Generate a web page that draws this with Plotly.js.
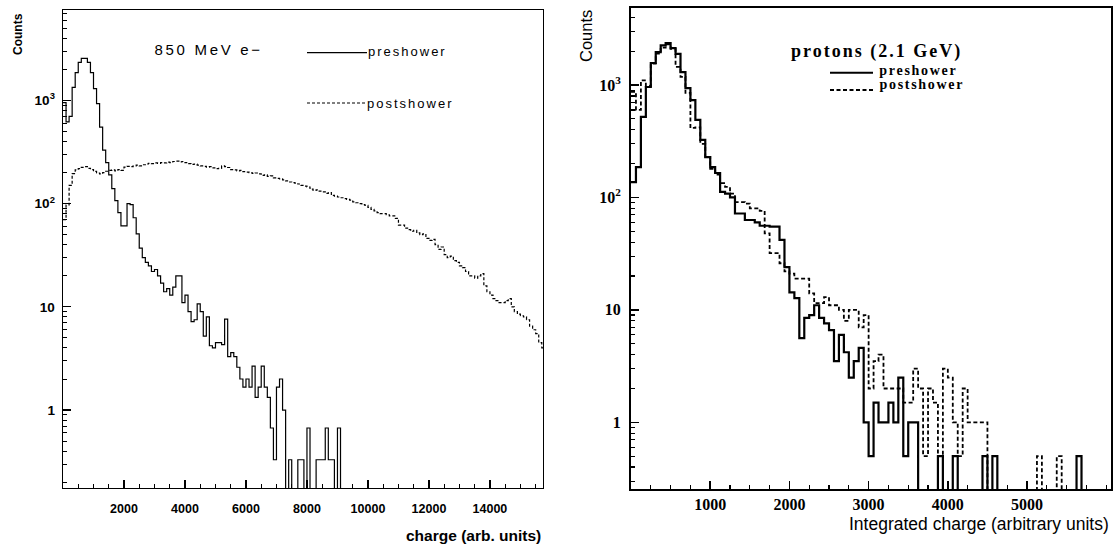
<!DOCTYPE html>
<html>
<head>
<meta charset="utf-8">
<script src="https://cdn.plot.ly/plotly-3.0.1.min.js"></script>
<style>
  html, body { margin: 0; padding: 0; background: #fff; }
  #chart { width: 1120px; height: 547px; }
  .annotation[data-index="2"] text { letter-spacing: 2.7px; }
  .annotation[data-index="3"] text { letter-spacing: 2px; }
  .annotation[data-index="4"] text { letter-spacing: 2px; }
  .annotation[data-index="7"] text { letter-spacing: 2px; }
  .annotation[data-index="8"] text { letter-spacing: 1.7px; }
  .annotation[data-index="9"] text { letter-spacing: 1.7px; }
</style>
</head>
<body>
<div id="chart"></div>
<script>
// ---------- Left panel: 850 MeV electrons (bin width 100) ----------
const eBinWidth = 100;
const ePreshower = [
  950, 620, 700, 1340, 1860, 2340, 2560, 2560, 2340, 1860,
  1300, 930, 550, 330, 250, 190, 140, 107, 82, 61,
  61, 100, 98, 73, 51, 37, 30, 27, 25, 22,
  23, 20, 17, 14, 15, 13, 15.5, 20, 20, 11,
  13, 9, 7.2, 7.5, 10.7, 9, 5.2, 8, 4.2, 4,
  4.5, 4.5, 4.3, 7.6, 3.3, 3.6, 3.3, 2.6, 2.0, 1.67,
  2.0, 1.67, 2.67, 1.33, 1.67, 2.67, 1.67, 1.33, 0.67, 0.33,
  1.67, 2.0, 1.0, 0, 0.33, 0, 0, 0.33, 0.33, 0,
  0.67, 0, 0, 0.33, 0.33, 0.33, 0.67, 0.33, 0.33, 0, 0.67
];
const ePostshower = [
  70, 97, 150, 195, 212, 218, 225, 228, 220, 214,
  205, 198, 194, 200, 206, 210, 212, 208, 214, 210,
  226, 230, 228, 232, 236, 232, 238, 242, 246, 244,
  248, 246, 250, 248, 252, 250, 256, 258, 254, 256,
  250, 244, 240, 242, 236, 232, 230, 226, 228, 222,
  218, 220, 232, 228, 224, 214, 212, 208, 210, 204,
  202, 200, 196, 198, 194, 188, 190, 184, 186, 178,
  176, 174, 170, 166, 162, 160, 158, 155, 150, 148,
  145, 138, 134, 136, 132, 130, 126, 128, 120, 118,
  116, 114, 112, 110, 108, 104, 102, 100, 98, 96,
  92, 88, 85, 82, 80, 80, 78, 76, 76, 72,
  62, 62, 58, 56, 54, 55, 52, 50, 51, 46,
  44, 45, 40, 36, 38, 32, 30, 31, 28, 27,
  25, 24, 22, 20, 20, 19, 20, 21, 16, 14,
  13, 12, 11.5, 11, 11, 11.5, 12, 10, 9, 8.5,
  8.2, 8, 7.5, 6.5, 6, 5.5, 4.5, 4
];

// ---------- Right panel: 2.1 GeV protons (bin width 62.5) ----------
const pBinWidth = 62.5;
const pPreshower = [
  137, 186, 520, 960, 1570, 1960, 2250, 2360, 2130, 1890,
  1300, 940, 735, 490, 325, 228, 186, 165, 112, 108,
  100, 72, 72, 63, 63, 60, 56, 56, 55, 55,
  42, 24, 14.3, 12.7, 5.6, 8.5, 9, 11, 8.5, 7.6,
  6.6, 3.5, 6, 4.2, 2.5, 3.5, 4.6, 1.0, 0.5, 1.5,
  1.0, 1.0, 1.5, 1.0, 2.5, 0.5, 1.0, 1.0, 0, 0,
  0, 0, 0.5, 0, 0, 0.5, 0, 0, 0, 0,
  0, 0.5, 0, 0.5, 0, 0, 0, 0, 0, 0,
  0, 0, 0, 0, 0, 0, 0, 0, 0, 0, 0.5
];
const pPostshower = [
  870, 600, 1100, 980, 1550, 1900, 2150, 2300, 2100, 1450,
  1180, 850, 415, 420, 300, 230, 180, 160, 134, 124,
  108, 91, 91, 88, 80, 80, 76, 48, 32, 32,
  26, 22, 21, 19, 19, 19, 14, 11.5, 11.5, 13,
  11, 11, 10, 8, 10, 10, 7, 9, 2, 3.5,
  4, 2, 2, 2, 2, 1.5, 1.5, 3, 2, 0.5,
  2, 1.5, 0.5, 3, 2.5, 1, 0.5, 2, 1, 1,
  1, 1, 0, 0, 0, 0, 0, 0, 0, 0,
  0, 0, 0.5, 0, 0, 0, 0.5
];

const yTickVals = [1, 10, 100, 1000];
const yTickText = ['1', '10', '10<sup>2</sup>', '10<sup>3</sup>'];
const eXTickVals = [2000, 4000, 6000, 8000, 10000, 12000, 14000];
const eXTickText = ['2000', '4000', '6000', '8000', '10000', '12000', '14000'];
const pXTickVals = [1000, 2000, 3000, 4000, 5000];
const pXTickText = ['1000', '2000', '3000', '4000', '5000'];

// ---------- helpers ----------
const FLOOR = 1e-3; // empty bins drawn below the axis floor
function stepTrace(values, width, xa, ya, lineStyle) {
  const x = [], y = [];
  values.forEach((v, i) => { x.push(i * width); y.push(v > 0 ? v : FLOOR); });
  x.push(values.length * width); y.push(FLOOR);
  return { type: 'scatter', mode: 'lines', x: x, y: y, xaxis: xa, yaxis: ya,
           line: Object.assign({ shape: 'hv', color: '#000' }, lineStyle),
           hoverinfo: 'skip', showlegend: false };
}
const logMinor = [];
for (let d = -1; d <= 3; d++) for (let m = 2; m <= 9; m++) logMinor.push(m * Math.pow(10, d));

const W = 1120, H = 547;
const px = v => v / W, py = v => 1 - v / H;

const sans = 'Liberation Sans, Arial, Helvetica, sans-serif';
const serif = 'Liberation Serif, Times New Roman, serif';

const traces = [
  stepTrace(ePreshower, eBinWidth, 'x', 'y', { width: 1.2 }),
  stepTrace(ePostshower, eBinWidth, 'x', 'y', { width: 1.2, dash: '3px,2px' }),
  stepTrace(pPreshower, pBinWidth, 'x2', 'y2', { width: 2.2 }),
  stepTrace(pPostshower, pBinWidth, 'x2', 'y2', { width: 1.8, dash: '4px,2.5px' })
];

const axBase = { showgrid: false, zeroline: false, showline: true, mirror: true,
                 linecolor: '#000', ticks: 'inside', tickcolor: '#000' };

const layout = {
  width: W, height: H,
  margin: { l: 0, r: 0, t: 0, b: 0, pad: 0 },
  paper_bgcolor: '#fff', plot_bgcolor: '#fff',
  showlegend: false,
  xaxis: Object.assign({}, axBase, {
    domain: [px(63), px(543)], anchor: 'y', range: [0, 15740],
    linewidth: 1.4, tickmode: 'array', tickvals: eXTickVals, ticktext: eXTickText, ticklen: 8, tickwidth: 1.2,
    ticklabelstandoff: 9,
    tickfont: { family: sans, size: 12.5, weight: 'bold', color: '#000' },
    minor: { tickmode: 'linear', tick0: 0, dtick: 500, ticks: 'inside', ticklen: 4, tickcolor: '#000', tickwidth: 1 }
  }),
  yaxis: Object.assign({}, axBase, {
    domain: [py(488), py(10)], anchor: 'x', type: 'log', range: [-0.755, 3.876],
    linewidth: 1.4, tickmode: 'array', tickvals: yTickVals, ticktext: yTickText, ticklen: 8, tickwidth: 1.2,
    ticklabelstandoff: 4,
    tickfont: { family: sans, size: 13.5, weight: 'bold', color: '#000' },
    minor: { tickmode: 'array', tickvals: logMinor, ticks: 'inside', ticklen: 4, tickcolor: '#000', tickwidth: 1 }
  }),
  xaxis2: Object.assign({}, axBase, {
    domain: [px(631), px(1111)], anchor: 'y2', range: [0, 6060],
    linewidth: 2, tickmode: 'array', tickvals: pXTickVals, ticktext: pXTickText, ticklen: 8, tickwidth: 1.5,
    ticklabelstandoff: 0,
    tickfont: { family: serif, size: 16, weight: 'bold', color: '#000' },
    minor: { tickmode: 'linear', tick0: 0, dtick: 250, ticks: 'inside', ticklen: 4, tickcolor: '#000', tickwidth: 1.2 }
  }),
  yaxis2: Object.assign({}, axBase, {
    domain: [py(489), py(8)], anchor: 'x2', type: 'log', range: [-0.593, 3.685],
    linewidth: 2, tickmode: 'array', tickvals: yTickVals, ticktext: yTickText, ticklen: 8, tickwidth: 1.5,
    ticklabelstandoff: 5,
    tickfont: { family: serif, size: 16, weight: 'bold', color: '#000' },
    minor: { tickmode: 'array', tickvals: logMinor, ticks: 'inside', ticklen: 4, tickcolor: '#000', tickwidth: 1.2 }
  }),
  annotations: [
    { text: 'Counts', x: px(18), y: py(34), textangle: -90, font: { family: sans, size: 12, weight: 'bold', color: '#000' } },
    { text: 'charge (arb. units)', x: px(543), y: py(535), xanchor: 'right', font: { family: sans, size: 15.5, weight: 'bold', color: '#000' } },
    { text: '850 MeV e\u2212', x: px(209), y: py(49), font: { family: sans, size: 15, color: '#000' } },
    { text: 'preshower', x: px(407), y: py(52), font: { family: sans, size: 13, color: '#000' } },
    { text: 'postshower', x: px(411), y: py(104), font: { family: sans, size: 13, color: '#000' } },
    { text: 'Counts', x: px(585.5), y: py(36.5), textangle: -90, font: { family: sans, size: 16.5, color: '#000' } },
    { text: 'Integrated charge (arbitrary units)', x: px(1111), y: py(524), xanchor: 'right', font: { family: sans, size: 17.5, color: '#000' } },
    { text: 'protons (2.1 GeV)', x: px(876), y: py(52), font: { family: serif, size: 18, weight: 'bold', color: '#000' } },
    { text: 'preshower', x: px(918), y: py(70), font: { family: serif, size: 14, weight: 'bold', color: '#000' } },
    { text: 'postshower', x: px(922), y: py(84), font: { family: serif, size: 14, weight: 'bold', color: '#000' } }
  ].map(a => Object.assign({ xref: 'paper', yref: 'paper', showarrow: false, xanchor: 'center', yanchor: 'middle' }, a)),
  shapes: [
    { x0: px(307), x1: px(367), y0: py(52.7), y1: py(52.7), line: { color: '#000', width: 1.2 } },
    { x0: px(307), x1: px(367), y0: py(103), y1: py(103), line: { color: '#000', width: 1.2, dash: '3px,2px' } },
    { x0: px(830), x1: px(873), y0: py(72.7), y1: py(72.7), line: { color: '#000', width: 2 } },
    { x0: px(830), x1: px(873), y0: py(90), y1: py(90), line: { color: '#000', width: 1.8, dash: '4px,2.5px' } }
  ].map(s => Object.assign({ type: 'line', xref: 'paper', yref: 'paper' }, s))
};

Plotly.newPlot('chart', traces, layout, { staticPlot: true, displayModeBar: false });
</script>
</body>
</html>
